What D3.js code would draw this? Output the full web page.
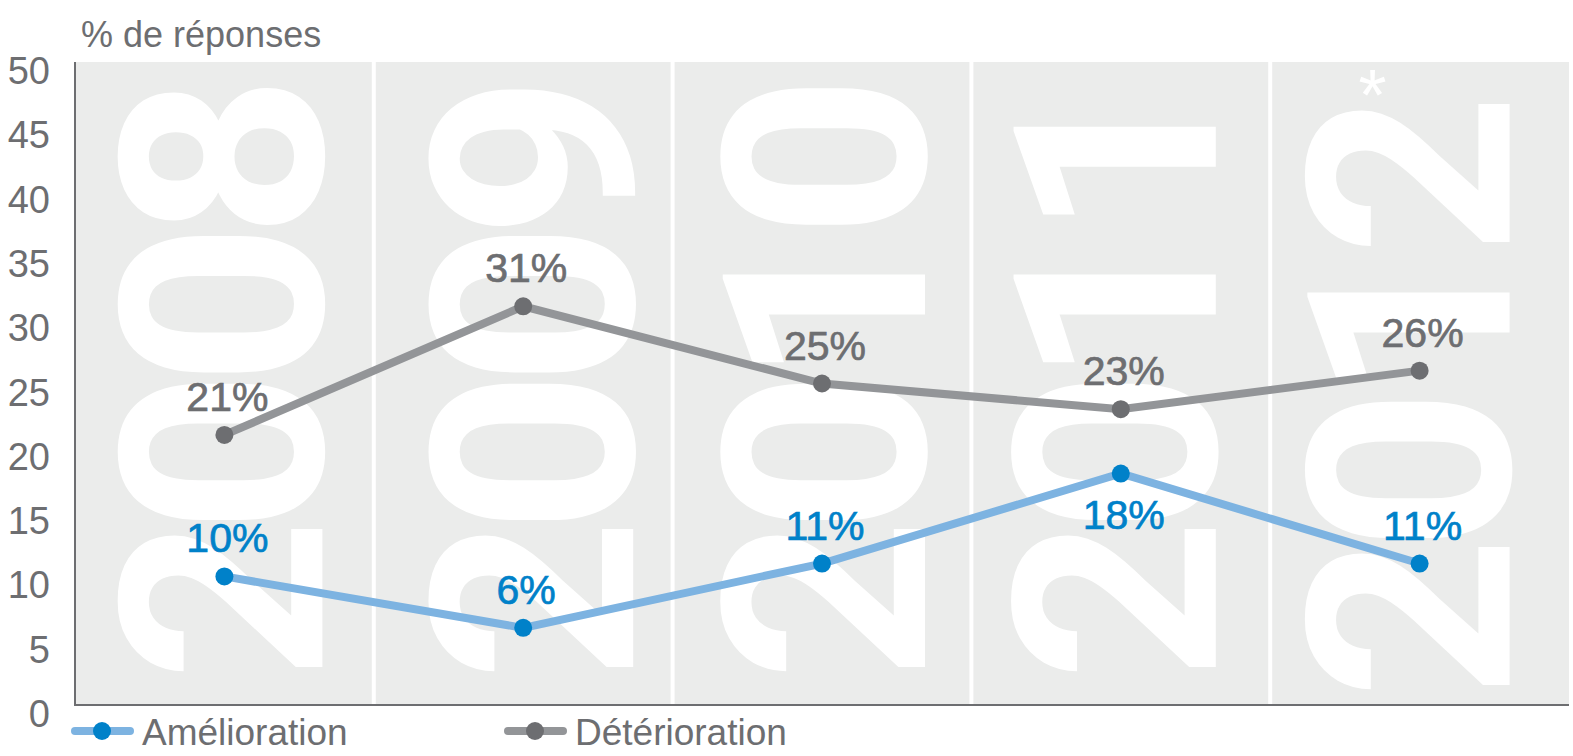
<!DOCTYPE html>
<html>
<head>
<meta charset="utf-8">
<script src="https://cdn.jsdelivr.net/npm/d3@7/dist/d3.min.js"></script>
<style>
  html, body { margin: 0; padding: 0; background: #fff; }
  svg { display: block; font-family: "Liberation Sans", Arial, sans-serif; }
</style>
</head>
<body>
<svg id="chart" width="1573" height="756"></svg>
<script>
// Survey results by year
const years = ["2008", "2009", "2010", "2011", "2012"];
const amelioration = [10, 6, 11, 18, 11];
const deterioration = [21, 31, 25, 23, 26];
const yTicks = [0, 5, 10, 15, 20, 25, 30, 35, 40, 45, 50];
const seriesNames = ["Amélioration", "Détérioration"];
const yearNotes = ["", "", "", "", "*"];
const ameliorationLabelSide = ["above", "above", "above", "below", "above"];

const svg = d3.select("#chart");
const plotLeft = 75, plotRight = 1569, plotTop = 62, plotBottom = 705;

const x = d3.scaleBand().domain(years).range([plotLeft, plotRight]);
const y = d3.scaleLinear().domain([0, 50]).range([plotBottom, plotTop]);
const cx = d => x(d) + x.bandwidth() / 2;

// Background panels
svg.append("g").selectAll("rect").data(years).join("rect")
  .attr("x", d => x(d)).attr("y", plotTop)
  .attr("width", x.bandwidth()).attr("height", plotBottom - plotTop)
  .attr("fill", "#ebeceb");

// Large year numerals, rotated to read bottom-to-top
const numeralShift = [-3, 9, 2, -6, -11];
const numeralBase = [681, 681, 681, 681, 699];
const bigYears = svg.append("g");
years.forEach((yr, i) => {
  bigYears.append("text")
    .attr("transform", `translate(${cx(yr) + 101 + numeralShift[i]},${numeralBase[i]}) rotate(-90)`)
    .attr("font-family", "Roboto, 'Liberation Sans', sans-serif")
    .attr("font-size", 284).attr("font-weight", 700)
    .attr("fill", "#ffffff")
    .attr("textLength", 606).attr("lengthAdjust", "spacing")
    .text(yr);
  if (yearNotes[i]) {
    bigYears.append("text")
      .attr("x", cx(yr) - 47).attr("y", 120)
      .attr("font-size", 72).attr("fill", "#ffffff")
      .attr("text-anchor", "middle")
      .text(yearNotes[i]);
  }
});

// White separators between years
svg.append("g").selectAll("line").data(years.slice(1)).join("line")
  .attr("x1", d => x(d)).attr("x2", d => x(d))
  .attr("y1", plotTop).attr("y2", plotBottom)
  .attr("stroke", "#ffffff").attr("stroke-width", 4);

// Axis lines
svg.append("line").attr("x1", plotLeft).attr("x2", plotLeft).attr("y1", plotTop).attr("y2", plotBottom + 1)
  .attr("stroke", "#6d6e71").attr("stroke-width", 2);
svg.append("line").attr("x1", plotLeft).attr("x2", plotRight).attr("y1", plotBottom).attr("y2", plotBottom)
  .attr("stroke", "#6d6e71").attr("stroke-width", 2);

// Y tick labels
svg.append("g").selectAll("text").data(yTicks).join("text")
  .attr("x", 50).attr("y", d => y(d) + 22)
  .attr("text-anchor", "end")
  .attr("font-size", 38).attr("fill", "#6d6e71")
  .text(d => d);

// Axis title
svg.append("text").attr("x", 81).attr("y", 47)
  .attr("font-size", 36).attr("fill", "#6d6e71")
  .text("% de réponses");

// Series
const series = [
  { name: seriesNames[0], values: amelioration, line: "#7db3e1", dot: "#0081c9", label: "#0081c9", side: ameliorationLabelSide },
  { name: seriesNames[1], values: deterioration, line: "#939598", dot: "#6d6e71", label: "#6d6e71", side: years.map(() => "above") }
];

const lineGen = d3.line().x((d, i) => cx(years[i])).y(d => y(d));

series.forEach(s => {
  const g = svg.append("g");
  g.append("path").datum(s.values)
    .attr("d", lineGen)
    .attr("fill", "none").attr("stroke", s.line).attr("stroke-width", 8);
  g.selectAll("circle").data(s.values).join("circle")
    .attr("cx", (d, i) => cx(years[i])).attr("cy", d => y(d))
    .attr("r", 9).attr("fill", s.dot);
  g.selectAll("text").data(s.values).join("text")
    .attr("x", (d, i) => cx(years[i]) + 3)
    .attr("y", (d, i) => s.side[i] === "below" ? y(d) + 55 : y(d) - 24)
    .attr("text-anchor", "middle")
    .attr("font-size", 41).attr("fill", s.label)
    .attr("stroke", s.label).attr("stroke-width", 0.7)
    .text(d => d + "%");
});

// Legend
const legendX = [75, 508];
series.forEach((s, i) => {
  const g = svg.append("g").attr("transform", `translate(${legendX[i]},731)`);
  g.append("line").attr("x1", 0).attr("x2", 55).attr("y1", 0).attr("y2", 0)
    .attr("stroke", s.line).attr("stroke-width", 8).attr("stroke-linecap", "round");
  g.append("circle").attr("cx", 27).attr("cy", 0).attr("r", 9).attr("fill", s.dot);
  g.append("text").attr("x", 67).attr("y", 14)
    .attr("font-size", 37).attr("fill", "#6d6e71")
    .text(s.name);
});
</script>
</body>
</html>
